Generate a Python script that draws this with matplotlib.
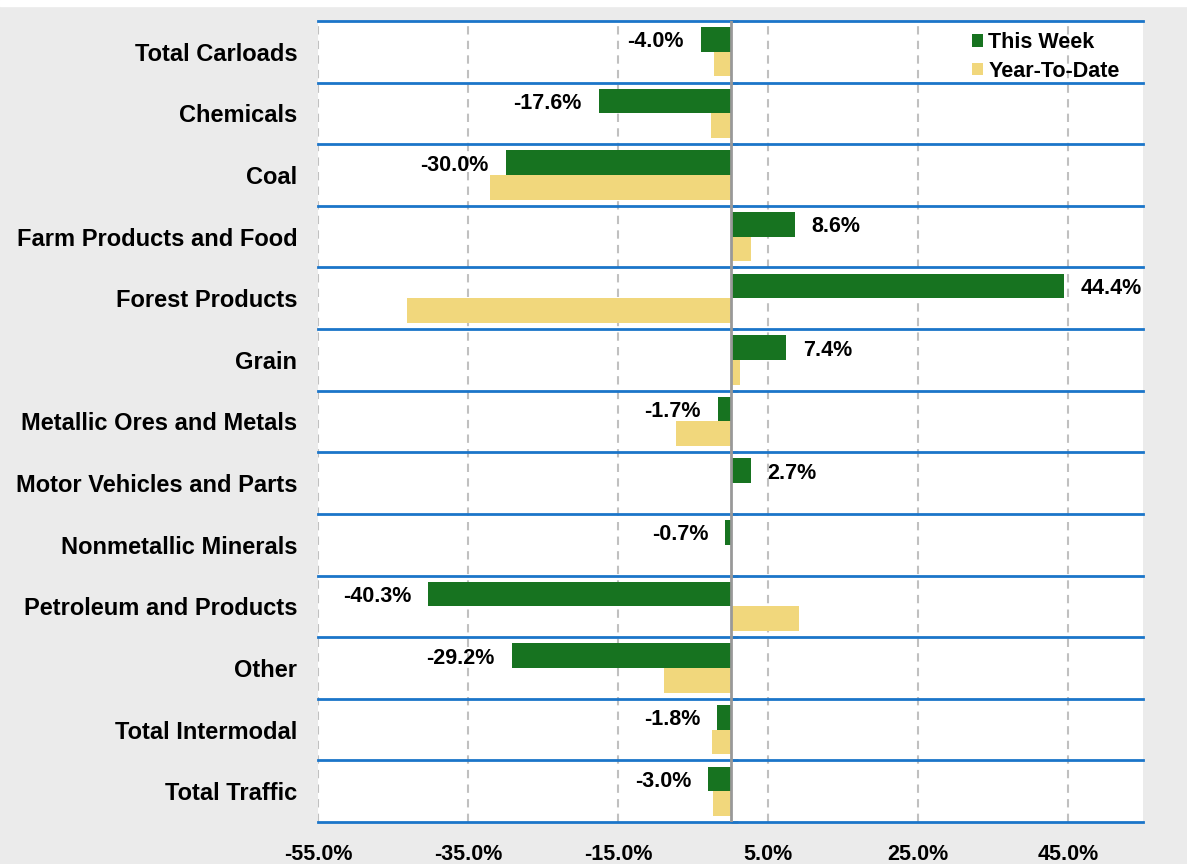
import numpy as np
import matplotlib.pyplot as plt
from matplotlib.patches import Patch, Rectangle

plt.rcParams['font.family'] = ['Liberation Sans', 'DejaVu Sans']
plt.rcParams['font.weight'] = 'bold'

# ---------------------------------------------------------------------
# data
categories = ["Total Carloads", "Chemicals", "Coal", "Farm Products and Food",
              "Forest Products", "Grain", "Metallic Ores and Metals",
              "Motor Vehicles and Parts", "Nonmetallic Minerals",
              "Petroleum and Products", "Other", "Total Intermodal", "Total Traffic"]
this_week = [-4.0, -17.6, -30.0, 8.6, 44.4, 7.4, -1.7, 2.7, -0.7, -40.3, -29.2, -1.8, -3.0]
year_to_date = [-2.2, -2.6, -32.1, 2.7, -43.1, 1.2, -7.3, 0.0, 0.0, 9.1, -8.9, -2.5, -2.3]
x_ticks = [-55, -35, -15, 5, 25, 45]

green = '#177320'
yellow = '#F1D77C'
blue = '#1B75C9'
bg = '#EBEBEB'

# ---------------------------------------------------------------------
fig = plt.figure(figsize=(11.87, 8.64), dpi=100, facecolor=bg)
fig.patches.append(Rectangle((0, 1 - 6 / 864), 1, 6 / 864, transform=fig.transFigure,
                             color='white', zorder=0))
ax = fig.add_axes([318 / 1187, 42 / 864, 825 / 1187, 801 / 864])
ax.set_facecolor('white')

y = np.arange(len(categories))
h = 0.4
ax.barh(y - 0.2, this_week, height=h, color=green, zorder=3, label='This Week')
ax.barh(y + 0.2, year_to_date, height=h, color=yellow, zorder=3, label='Year-To-Date')

# value labels for this week
for yi, v in zip(y, this_week):
    off = -12 if v < 0 else 12
    ax.annotate(f"{v:.1f}%", (v, yi - 0.2), xytext=(off, 0), textcoords='offset points',
                ha='right' if v < 0 else 'left', va='center_baseline',
                fontsize=15.5, fontweight='bold', zorder=5)

ax.set_xlim(-55, 55)
ax.set_ylim(len(categories) - 0.5, -0.5)

# row separators
for b in np.arange(-0.5, len(categories), 1.0):
    ax.axhline(b, color=blue, lw=2, zorder=4, clip_on=False)

# dashed grid
ax.set_xticks(x_ticks)
ax.set_xticklabels([f"{t:.1f}%" for t in x_ticks], fontsize=15.5, fontweight='bold')
ax.xaxis.grid(True, color='#C0C0C0', linestyle=(0, (4, 3)), lw=1.5, zorder=1)
ax.tick_params(axis='x', length=0, pad=15.5)

ax.set_yticks(y)
ax.set_yticklabels(categories, fontsize=17, fontweight='bold')
ax.tick_params(axis='y', length=0, pad=15)

for s in ax.spines.values():
    s.set_visible(False)

# zero line with small ticks at row boundaries
ax.axvline(0, color='#999999', lw=2, zorder=4)
sec = ax.secondary_yaxis(0.5)
sec.set_yticks(np.arange(-0.5, len(categories), 1.0))
sec.set_yticklabels([])
sec.tick_params(axis='y', length=5, width=2, color='#999999')
for s in sec.spines.values():
    s.set_visible(False)

handles = [Patch(facecolor=green, label='This Week'),
           Patch(facecolor=yellow, label='Year-To-Date')]
leg = ax.legend(handles=handles, loc='upper right', bbox_to_anchor=(0.99, 1.005),
                frameon=False, fontsize=15.5, handlelength=0.5, handleheight=0.5,
                handletextpad=0.25, labelspacing=0.35, borderaxespad=0.3)
for t in leg.get_texts():
    t.set_fontweight('bold')

fig.savefig('out.png', dpi=100, facecolor=bg)
